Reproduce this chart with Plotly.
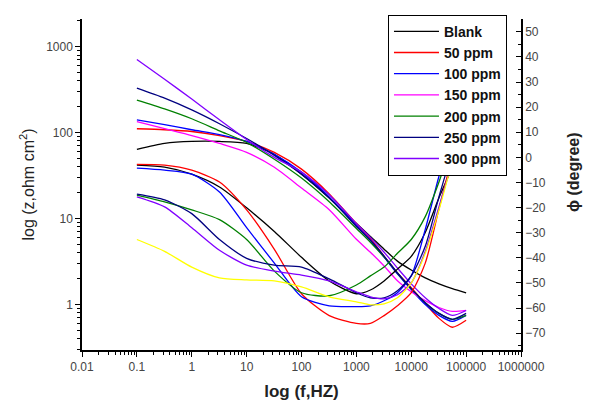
import plotly.graph_objects as go

# Frequency grid (Hz)
freq = [0.1, 0.32, 1, 3.2, 10, 32, 100, 320, 1000, 1800, 3200, 5600,
        10000, 18000, 32000, 56000, 100000]

names = ["Blank", "50 ppm", "100 ppm", "150 ppm", "200 ppm", "250 ppm", "300 ppm"]
colors = ["#000000", "#ff0000", "#0000ff", "#ff00ff", "#008000", "#000080", "#8000ff"]

# |Z| (ohm cm2), left log axis
z_blank = [63.8, 74.8, 78.9, 78.9, 74.8, 55.9, 32.9, 17.4, 8.76, 6.21, 4.40, 3.20, 2.52, 2.04, 1.74, 1.53, 1.37]
z_50 = [111, 108, 103, 92.4, 78.9, 58.9, 37.6, 19.4, 8.76, 5.89, 3.66, 2.33, 1.57, 1.03, 0.690, 0.544, 0.655]
z_100 = [141, 124, 108, 94.9, 78.9, 55.9, 34.7, 17.9, 8.32, 5.59, 3.56, 2.27, 1.49, 1.00, 0.748, 0.638, 0.748]
z_150 = [134, 111, 92.4, 74.8, 58.9, 39.6, 22.7, 12.7, 5.74, 4.06, 2.81, 1.89, 1.41, 1.11, 0.924, 0.832, 0.853]
z_200 = [239, 189, 145, 105, 76.8, 49.0, 29.6, 15.7, 7.67, 5.30, 3.56, 2.33, 1.53, 1.05, 0.788, 0.673, 0.748]
z_250 = [329, 252, 184, 127, 85.3, 54.4, 32.9, 17.4, 8.10, 5.59, 3.66, 2.33, 1.53, 1.05, 0.788, 0.673, 0.788]
z_300 = [709, 418, 246, 141, 83.2, 51.6, 34.7, 18.9, 8.76, 6.05, 4.06, 2.66, 1.74, 1.20, 0.899, 0.748, 0.853]

# Phase angle (degree), right axis
p_blank = [-3.1, -3.9, -6.7, -11.8, -20.1, -29.5, -39.8, -49.2, -54.3, -52.8, -49.2, -44.5, -39.4, -29.9, -16.1, -3.9, 9.8]
p_50 = [-2.8, -3.1, -5.1, -9.8, -20.9, -36.6, -54.3, -63.0, -66.1, -66.1, -63.0, -59.1, -53.9, -42.1, -20.5, 0.0, 15.7]
p_100 = [-4.3, -5.1, -6.7, -13.8, -28.0, -42.1, -55.5, -59.1, -59.4, -59.1, -57.1, -53.9, -47.2, -28.7, -7.5, 9.8, 21.7]
p_150 = [-32.7, -37.4, -43.7, -48.0, -48.8, -49.2, -51.6, -55.5, -57.5, -58.7, -58.3, -55.9, -50.0, -38.2, -20.9, -2.0, 13.8]
p_200 = [-15.0, -17.7, -20.9, -24.8, -32.7, -45.3, -53.9, -55.1, -50.8, -47.2, -43.7, -38.2, -32.7, -23.6, -9.8, 5.9, 17.7]
p_250 = [-14.6, -16.9, -22.4, -32.7, -40.2, -42.9, -43.7, -48.4, -53.9, -55.9, -55.9, -53.1, -47.2, -35.4, -15.7, 2.0, 15.7]
p_300 = [-15.7, -19.7, -28.0, -37.0, -42.9, -45.3, -46.9, -49.2, -53.5, -55.5, -56.3, -54.7, -50.0, -37.4, -19.7, -2.0, 13.8]

z_series = [z_blank, z_50, z_100, z_150, z_200, z_250, z_300]
p_series = [p_blank, p_50, p_100, None, p_200, p_250, p_300]

x_tickvals = [0.01, 0.1, 1, 10, 100, 1000, 10000, 100000, 1000000]
x_ticktext = ["0.01", "0.1", "1", "10", "100", "1000", "10000", "100000", "1000000"]
y_tickvals = [1, 10, 100, 1000]
y_ticktext = ["1", "10", "100", "1000"]

FONT = "Liberation Sans, Arial, sans-serif"
fig = go.Figure()

# phase traces first (drawn under)
for name, col, p in zip(names, colors, p_series):
    if p is None:
        continue
    fig.add_trace(go.Scatter(x=freq, y=p, yaxis="y2", mode="lines", name=name,
                             legendgroup=name, showlegend=False,
                             line=dict(color=col, width=1.3, shape="spline", smoothing=0.7)))
fig.add_trace(go.Scatter(x=freq, y=p_150, yaxis="y2", mode="lines", name="150 ppm",
                         legendgroup="150 ppm", showlegend=False,
                         line=dict(color="#ffff00", width=1.3, shape="spline", smoothing=0.7)))

for name, col, z in zip(names, colors, z_series):
    fig.add_trace(go.Scatter(x=freq, y=z, mode="lines", name=name, legendgroup=name,
                             line=dict(color=col, width=1.3, shape="spline", smoothing=0.7)))

fig.update_layout(
    width=585, height=397,
    margin=dict(l=74, r=72, t=7, b=55),
    paper_bgcolor="white", plot_bgcolor="white",
    font=dict(family=FONT, color="#222", size=12),
    showlegend=True,
    legend=dict(x=0.697, y=1.013, xanchor="left", yanchor="top",
                bgcolor="white", bordercolor="black", borderwidth=1,
                font=dict(size=14, color="#111", family=FONT, weight="bold"),
                itemwidth=45, tracegroupgap=0),
    xaxis=dict(type="log", range=[-2, 6], tickvals=x_tickvals, ticktext=x_ticktext,
               automargin=False,
               ticks="outside", ticklen=5, tickwidth=1, tickcolor="black",
               showline=True, linecolor="black", linewidth=1.5, showgrid=False, zeroline=False,
               minor=dict(ticks="outside", ticklen=3, tickcolor="black", dtick="D1", showgrid=False),
               tickfont=dict(size=12, color="#444"),
               title=dict(text="<b>log (f,HZ)</b>", font=dict(size=17, color="#222"), standoff=12)),
    yaxis=dict(type="log", range=[-0.529, 3.322], tickvals=y_tickvals, ticktext=y_ticktext,
               automargin=False,
               ticks="outside", ticklen=5, tickwidth=1, tickcolor="black",
               showline=True, linecolor="black", linewidth=1.5, showgrid=False, zeroline=False,
               minor=dict(ticks="outside", ticklen=3, tickcolor="black", dtick="D1", showgrid=False),
               tickfont=dict(size=12, color="#444"),
               title=dict(text="log (z,ohm cm<sup>2</sup>)", font=dict(size=16, color="#222"), standoff=8)),
    yaxis2=dict(overlaying="y", side="right", range=[-76.7, 55.1], tick0=0, dtick=10,
                automargin=False,
                ticks="inside", ticklen=5, tickwidth=1, tickcolor="black",
                showline=True, linecolor="black", linewidth=1.5, showgrid=False, zeroline=False,
                minor=dict(ticks="inside", ticklen=3, tickcolor="black", dtick=5, showgrid=False),
                tickfont=dict(size=12, color="#444")),
    annotations=[dict(text="<b>ϕ (degree)</b>", xref="paper", yref="paper",
                      x=1.118, y=0.537, textangle=-90, showarrow=False,
                      xanchor="center", yanchor="middle",
                      font=dict(size=16, color="#222", family=FONT))],
)

fig.write_html("out.html")
